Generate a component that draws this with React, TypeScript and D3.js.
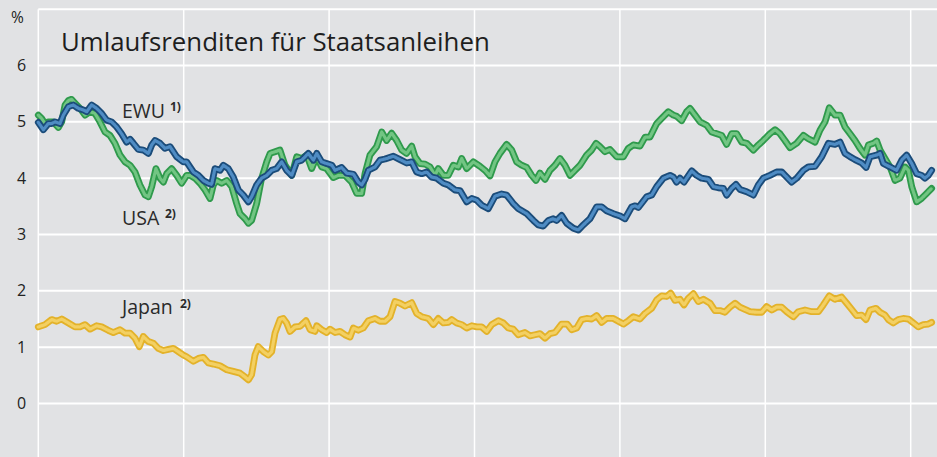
import React, { useEffect } from 'react';
import * as d3 from 'd3';

// yields in % p.a., [decimal year, value]
const ewu: [number, number][] = [
  [2002.000,4.99],[2002.035,4.86],[2002.069,4.97],[2002.092,4.97],[2002.115,5.00],[2002.149,4.97],[2002.172,5.12],[2002.207,5.27],[2002.241,5.30],[2002.275,5.24],[2002.310,5.21],[2002.333,5.18],[2002.367,5.30],[2002.401,5.24],[2002.436,5.15],[2002.470,5.03],[2002.504,5.00],[2002.539,4.91],[2002.573,4.79],[2002.608,4.64],[2002.631,4.69],[2002.654,4.62],[2002.688,4.51],[2002.722,4.50],[2002.757,4.44],[2002.780,4.59],[2002.803,4.67],[2002.837,4.62],[2002.871,4.53],[2002.906,4.56],[2002.952,4.38],[2002.997,4.29],
  [2003.020,4.29],[2003.066,4.11],[2003.101,4.05],[2003.135,3.96],[2003.170,3.91],[2003.192,3.89],[2003.215,4.17],[2003.250,4.14],[2003.273,4.23],[2003.307,4.17],[2003.341,4.02],[2003.376,3.79],[2003.410,3.70],[2003.445,3.58],[2003.467,3.67],[2003.502,3.88],[2003.536,4.00],[2003.571,4.05],[2003.605,4.14],[2003.639,4.17],[2003.674,4.29],[2003.708,4.14],[2003.743,4.05],[2003.777,4.29],[2003.811,4.32],[2003.857,4.44],[2003.892,4.32],[2003.915,4.44],[2003.949,4.29],[2003.983,4.26],[2004.018,4.23],[2004.041,4.14],
  [2004.086,4.19],[2004.121,4.09],[2004.167,4.07],[2004.201,3.93],[2004.224,3.88],[2004.247,3.98],[2004.270,4.14],[2004.316,4.20],[2004.350,4.32],[2004.385,4.34],[2004.442,4.39],[2004.488,4.33],[2004.534,4.27],[2004.568,4.29],[2004.602,4.11],[2004.637,4.08],[2004.671,4.11],[2004.705,4.02],[2004.740,4.00],[2004.786,3.91],[2004.820,3.88],[2004.866,3.79],[2004.900,3.78],[2004.946,3.58],[2004.981,3.64],[2005.015,3.61],[2005.049,3.52],[2005.095,3.46],
  [2005.141,3.68],[2005.187,3.72],[2005.221,3.70],[2005.267,3.55],[2005.301,3.46],[2005.359,3.37],[2005.405,3.25],[2005.439,3.17],[2005.473,3.15],[2005.508,3.25],[2005.542,3.28],[2005.565,3.25],[2005.599,3.34],[2005.634,3.20],[2005.680,3.11],[2005.714,3.08],[2005.748,3.17],[2005.794,3.28],[2005.840,3.49],[2005.875,3.49],[2005.909,3.42],[2005.955,3.37],[2006.001,3.33],[2006.035,3.28],[2006.081,3.49],[2006.105,3.51],
  [2006.127,3.48],[2006.184,3.67],[2006.219,3.70],[2006.253,3.85],[2006.299,4.00],[2006.345,4.05],[2006.368,4.02],[2006.390,3.93],[2006.413,4.00],[2006.441,3.93],[2006.494,4.13],[2006.528,4.05],[2006.562,4.00],[2006.608,3.98],[2006.643,3.85],[2006.677,3.83],[2006.711,3.82],[2006.734,3.70],[2006.769,3.82],[2006.798,3.89],[2006.826,3.80],[2006.872,3.76],[2006.918,3.70],[2006.952,3.88],[2006.986,4.00],[2007.032,4.05],[2007.078,4.11],[2007.113,4.11],
  [2007.136,4.05],[2007.181,3.93],[2007.216,4.00],[2007.262,4.14],[2007.296,4.20],[2007.342,4.21],[2007.388,4.38],[2007.434,4.62],[2007.479,4.60],[2007.514,4.64],[2007.548,4.44],[2007.583,4.38],[2007.617,4.33],[2007.663,4.27],[2007.693,4.19],[2007.720,4.38],[2007.766,4.41],[2007.789,4.44],[2007.812,4.26],[2007.858,4.20],[2007.903,4.14],[2007.938,4.32],[2007.972,4.41],[2008.007,4.26],[2008.041,4.08],[2008.075,4.05],[2008.098,4.00],[2008.121,4.05],[2008.144,4.14],
];

const usa: [number, number][] = [
  [2002.000,5.12],[2002.023,5.06],[2002.046,4.97],[2002.069,5.00],[2002.103,5.00],[2002.138,4.90],[2002.161,5.00],[2002.184,5.30],[2002.207,5.38],[2002.229,5.40],[2002.252,5.33],[2002.287,5.24],[2002.321,5.12],[2002.356,5.18],[2002.390,5.15],[2002.424,5.00],[2002.459,4.82],[2002.493,4.76],[2002.527,4.62],[2002.562,4.41],[2002.596,4.29],[2002.631,4.23],[2002.665,4.11],[2002.699,3.88],[2002.734,3.70],[2002.757,3.67],[2002.780,3.85],[2002.809,4.17],[2002.837,4.00],[2002.860,3.93],[2002.883,4.08],[2002.917,4.17],[2002.952,4.05],[2002.986,3.91],
  [2003.020,4.05],[2003.043,4.05],[2003.078,4.00],[2003.112,3.91],[2003.147,3.79],[2003.181,3.64],[2003.204,3.88],[2003.227,3.96],[2003.261,3.91],[2003.296,3.96],[2003.330,3.85],[2003.364,3.55],[2003.387,3.37],[2003.422,3.28],[2003.445,3.20],[2003.467,3.25],[2003.502,3.55],[2003.536,4.00],[2003.571,4.29],[2003.594,4.44],[2003.628,4.47],[2003.662,4.50],[2003.697,4.23],[2003.743,4.05],[2003.777,4.38],[2003.811,4.35],[2003.846,4.41],[2003.880,4.17],[2003.915,4.38],[2003.949,4.20],[2003.983,4.17],
  [2004.029,4.01],[2004.064,4.05],[2004.109,4.05],[2004.155,3.93],[2004.190,3.73],[2004.224,3.73],[2004.247,4.08],[2004.281,4.41],[2004.327,4.56],[2004.362,4.82],[2004.396,4.67],[2004.430,4.80],[2004.465,4.67],[2004.499,4.50],[2004.533,4.44],[2004.568,4.57],[2004.591,4.38],[2004.625,4.26],[2004.660,4.25],[2004.694,4.20],[2004.728,4.05],[2004.751,4.17],[2004.786,4.05],[2004.820,4.05],[2004.854,4.23],[2004.889,4.20],[2004.912,4.35],[2004.946,4.17],[2004.992,4.29],[2005.038,4.21],[2005.072,4.14],
  [2005.107,4.04],[2005.141,4.29],[2005.175,4.44],[2005.221,4.60],[2005.256,4.50],[2005.290,4.29],[2005.324,4.23],[2005.359,4.19],[2005.393,4.05],[2005.423,3.96],[2005.450,4.09],[2005.485,3.98],[2005.519,4.14],[2005.554,4.23],[2005.588,4.35],[2005.622,4.23],[2005.657,4.05],[2005.691,4.14],[2005.726,4.23],[2005.771,4.41],[2005.806,4.50],[2005.836,4.62],[2005.863,4.56],[2005.897,4.47],[2005.932,4.51],[2005.978,4.38],[2006.024,4.38],[2006.058,4.53],[2006.092,4.59],
  [2006.138,4.57],[2006.173,4.73],[2006.207,4.73],[2006.253,4.97],[2006.287,5.06],[2006.333,5.18],[2006.368,5.12],[2006.390,5.10],[2006.425,5.02],[2006.459,5.18],[2006.482,5.24],[2006.517,5.12],[2006.551,5.00],[2006.597,4.94],[2006.631,4.82],[2006.666,4.79],[2006.700,4.76],[2006.734,4.60],[2006.769,4.79],[2006.803,4.79],[2006.838,4.64],[2006.872,4.62],[2006.918,4.50],[2006.952,4.59],[2006.986,4.67],[2007.032,4.79],[2007.067,4.86],[2007.101,4.79],[2007.135,4.67],
  [2007.170,4.54],[2007.216,4.62],[2007.262,4.76],[2007.296,4.70],[2007.342,4.64],[2007.376,4.85],[2007.411,5.00],[2007.440,5.25],[2007.479,5.12],[2007.514,5.12],[2007.548,4.91],[2007.583,4.79],[2007.617,4.67],[2007.651,4.53],[2007.686,4.41],[2007.709,4.59],[2007.743,4.62],[2007.766,4.66],[2007.789,4.50],[2007.823,4.35],[2007.858,4.20],[2007.892,3.96],[2007.926,4.00],[2007.961,4.20],[2007.984,4.14],[2008.007,3.85],[2008.041,3.58],[2008.075,3.64],[2008.110,3.73],[2008.144,3.82],
];

const japan: [number, number][] = [
  [2002.000,1.36],[2002.046,1.40],[2002.092,1.49],[2002.126,1.46],[2002.161,1.50],[2002.207,1.43],[2002.252,1.36],[2002.287,1.36],[2002.321,1.40],[2002.356,1.32],[2002.401,1.38],[2002.436,1.36],[2002.481,1.30],[2002.516,1.26],[2002.562,1.31],[2002.596,1.25],[2002.631,1.25],[2002.665,1.16],[2002.695,1.01],[2002.722,1.19],[2002.757,1.10],[2002.791,1.07],[2002.825,0.98],[2002.860,0.94],[2002.894,0.96],[2002.929,0.98],[2002.963,0.92],[2002.997,0.86],
  [2003.020,0.83],[2003.066,0.75],[2003.101,0.80],[2003.135,0.82],[2003.170,0.72],[2003.204,0.70],[2003.250,0.67],[2003.296,0.60],[2003.341,0.57],[2003.387,0.54],[2003.422,0.47],[2003.445,0.42],[2003.467,0.51],[2003.490,0.86],[2003.513,1.01],[2003.548,0.92],[2003.582,0.86],[2003.605,0.92],[2003.628,1.25],[2003.662,1.49],[2003.685,1.51],[2003.708,1.43],[2003.731,1.28],[2003.765,1.36],[2003.800,1.37],[2003.841,1.47],[2003.869,1.31],[2003.903,1.28],[2003.915,1.38],[2003.949,1.31],[2003.983,1.26],[2004.006,1.32],[2004.041,1.26],
  [2004.075,1.28],[2004.109,1.22],[2004.144,1.18],[2004.167,1.34],[2004.201,1.30],[2004.235,1.34],[2004.270,1.47],[2004.316,1.51],[2004.350,1.46],[2004.385,1.46],[2004.419,1.54],[2004.453,1.81],[2004.488,1.78],[2004.522,1.73],[2004.568,1.79],[2004.602,1.60],[2004.637,1.54],[2004.682,1.51],[2004.717,1.40],[2004.751,1.51],[2004.786,1.43],[2004.820,1.44],[2004.843,1.49],[2004.877,1.43],[2004.912,1.40],[2004.946,1.34],[2004.981,1.38],[2005.015,1.36],[2005.049,1.36],[2005.084,1.28],
  [2005.118,1.40],[2005.164,1.47],[2005.198,1.43],[2005.233,1.34],[2005.267,1.32],[2005.301,1.22],[2005.347,1.26],[2005.382,1.20],[2005.416,1.22],[2005.450,1.24],[2005.485,1.16],[2005.519,1.24],[2005.554,1.26],[2005.599,1.41],[2005.638,1.41],[2005.668,1.31],[2005.703,1.34],[2005.737,1.49],[2005.771,1.51],[2005.806,1.50],[2005.840,1.56],[2005.875,1.44],[2005.909,1.51],[2005.955,1.51],[2005.989,1.46],[2006.024,1.41],[2006.058,1.47],[2006.092,1.54],
  [2006.138,1.50],[2006.173,1.60],[2006.219,1.69],[2006.253,1.84],[2006.287,1.91],[2006.322,1.90],[2006.349,1.96],[2006.379,1.83],[2006.413,1.85],[2006.441,1.75],[2006.471,1.87],[2006.505,1.95],[2006.539,1.81],[2006.574,1.85],[2006.620,1.78],[2006.654,1.65],[2006.688,1.65],[2006.723,1.62],[2006.757,1.71],[2006.792,1.78],[2006.826,1.71],[2006.860,1.67],[2006.895,1.63],[2006.941,1.62],[2006.975,1.62],[2007.009,1.72],[2007.044,1.66],[2007.078,1.71],[2007.113,1.71],
  [2007.147,1.63],[2007.193,1.54],[2007.227,1.63],[2007.273,1.66],[2007.319,1.63],[2007.365,1.63],[2007.399,1.75],[2007.440,1.91],[2007.479,1.85],[2007.525,1.89],[2007.560,1.78],[2007.594,1.67],[2007.628,1.56],[2007.663,1.57],[2007.693,1.49],[2007.720,1.66],[2007.761,1.69],[2007.789,1.62],[2007.823,1.57],[2007.846,1.49],[2007.880,1.43],[2007.915,1.49],[2007.949,1.51],[2007.984,1.50],[2008.018,1.43],[2008.052,1.36],[2008.087,1.40],[2008.121,1.41],[2008.144,1.44],
];

const yearTicks = [2002, 2003, 2004, 2005, 2006, 2007, 2008];
const gridValues = [0, 1, 2, 3, 4, 5, 6, 7];
const labelValues = [0, 1, 2, 3, 4, 5, 6];

const title = 'Umlaufsrenditen für Staatsanleihen';

const FONT = '"Open Sans", "Noto Sans", sans-serif';

export default function App() {
  useEffect(() => {
    document.body.style.margin = '0';
  }, []);

  const width = 937;
  const height = 457;

  const x = d3.scaleLinear().domain([2002, 2009]).range([38.3, 38.3 + 7 * 145.4]);
  const y = d3.scaleLinear().domain([0, 7]).range([403.5, 9.2]);

  const line = d3.line<[number, number]>()
    .x(d => x(d[0]))
    .y(d => y(d[1]));

  const series = [
    { name: 'USA', data: usa, outer: '#2f9a4c', inner: '#72c583' },
    { name: 'EWU', data: ewu, outer: '#1b4c7a', inner: '#4f8cc4' },
    { name: 'Japan', data: japan, outer: '#e3b22a', inner: '#f3d063' },
  ];

  return (
    <svg width={width} height={height} style={{ display: 'block', fontFamily: FONT }}>
      <rect x={0} y={0} width={width} height={height} fill="#e1e2e4" />

      {gridValues.map(v => (
        <line key={'h' + v} x1={x(2002)} x2={width} y1={y(v)} y2={y(v)}
          stroke="#ffffff" strokeWidth={2} />
      ))}
      {yearTicks.map(t => (
        <line key={'v' + t} x1={x(t)} x2={x(t)} y1={y(7)} y2={height}
          stroke="#ffffff" strokeWidth={1.5} />
      ))}

      {labelValues.map(v => (
        <text key={'l' + v} x={21.5} y={y(v) + 5.5} textAnchor="middle"
          fontSize={16} fill="#222">{v}</text>
      ))}
      <text x={17.5} y={22.5} textAnchor="middle" fontSize={15.5} fill="#222">%</text>

      <text x={61} y={51} fontSize={25.8} fill="#1e1e1e">{title}</text>

      {series.map(s => (
        <g key={s.name} fill="none" strokeLinejoin="round" strokeLinecap="round">
          <path d={line(s.data) ?? ''} stroke={s.outer} strokeWidth={6.8} />
          <path d={line(s.data) ?? ''} stroke={s.inner} strokeWidth={3.2}
            strokeDasharray="1.4 1.2" />
        </g>
      ))}

      <g fill="#2a2a2a">
        <text x={122} y={118} fontSize={19.5}>EWU</text>
        <text x={170} y={111} fontSize={12} fontWeight="bold">1)</text>
        <text x={122} y={225} fontSize={19.5}>USA</text>
        <text x={165} y={218} fontSize={12} fontWeight="bold">2)</text>
        <text x={122} y={314} fontSize={19.5}>Japan</text>
        <text x={180} y={308} fontSize={12} fontWeight="bold">2)</text>
      </g>
    </svg>
  );
}
